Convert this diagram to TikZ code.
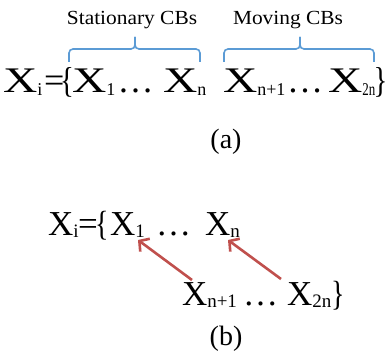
\documentclass[tikz,border=0pt]{standalone}
\usepackage{fontspec}
\setmainfont{Liberation Serif}
\usetikzlibrary{arrows.meta}
\definecolor{braceblue}{RGB}{91,155,213}
\definecolor{arrowred}{RGB}{192,80,77}
\newcommand\wideX{\scalebox{1.32}[1]{X}}
\newcommand\subA[1]{\raisebox{-2pt}{\fontsize{18}{18}\selectfont #1}}
\newcommand\subB[1]{\raisebox{-2pt}{\fontsize{19}{19}\selectfont #1}}
\newcommand\narrow[1]{\scalebox{0.8}[1]{#1}}
\begin{document}
\begin{tikzpicture}[x=1pt,y=-1pt,
  every node/.style={inner sep=0pt, outer sep=0pt, anchor=base west},
  rowa/.style={font=\fontsize{36}{40}\selectfont},
  rowb/.style={font=\fontsize{35}{38}\selectfont},
  lab/.style={font=\fontsize{20}{24}\selectfont, anchor=base},
  captxt/.style={font=\fontsize{28}{32}\selectfont, anchor=base},
  brace/.style={draw=braceblue, line width=1.6pt, rounded corners=4pt},
  arr/.style={draw=arrowred, line width=2.6pt, -{Straight Barb[length=7pt,width=16pt]}}]
\useasboundingbox (0,0) rectangle (386,361);
% labels
\node[lab] (stat) at (132,25) {\scalebox{1.07}[1]{Stationary CBs}};
\node[lab] (mov) at (288,25) {\scalebox{1.07}[1]{Moving CBs}};
% braces
\draw[brace] (69,62) -- (69,49) -- (135,49) -- (135,37);
\draw[brace] (135,37) -- (135,49) -- (200,49) -- (200,62);
\draw[brace] (224,62) -- (224,49) -- (300,49) -- (300,37);
\draw[brace] (300,37) -- (300,49) -- (374,49) -- (374,62);
% row (a)
\node[rowa] (aXi) at (3,93) {\wideX\subA{i}};
\node[rowa] (aEq) at (44,93) {=};
\node[rowa] (aBr) at (60,93) {\narrow{\{}};
\node[rowa] (aX1) at (72,93) {\wideX\subA{1}};
\node[rowa] (aD1) at (117.5,93) {…};
\node[rowa] (aXn) at (163,93) {\wideX\subA{n}};
\node[rowa] (aXn1) at (223,93) {\wideX\subA{n+1}};
\node[rowa] (aD2) at (287,93) {…};
\node[rowa] (aX2n) at (328,93) {\wideX\subA{\scalebox{0.72}[1]{2n}}};
\node[rowa] (aBr2) at (373.5,93) {\narrow{\}}};
\node[captxt] (capa) at (226,148) {(a)};
% row (b)
\node[rowb] (bXi) at (48,235) {X\subB{i}};
\node[rowb] (bEq) at (78,235) {=};
\node[rowb] (bBr) at (95,235) {\narrow{\{}};
\node[rowb] (bX1) at (110,235) {X\subB{1}};
\node[rowb] (bD1) at (156,235) {…};
\node[rowb] (bXn) at (205,235) {X\subB{n}};
\node[rowb] (bXn1) at (182,305) {X\subB{n+1}};
\node[rowb] (bD2) at (243,305) {…};
\node[rowb] (bX2n) at (287,305) {X\subB{2n}};
\node[rowb] (bBr2) at (331,305) {\narrow{\}}};
\node[captxt] (capb) at (226,345) {(b)};
% arrows
\coordinate (t1) at (192,280);
\coordinate (h1) at (138,240);
\coordinate (t2) at (281,279);
\coordinate (h2) at (228,240);
\draw[arr] (t1) -- (h1);
\draw[arr] (t2) -- (h2);
\end{tikzpicture}
\end{document}
